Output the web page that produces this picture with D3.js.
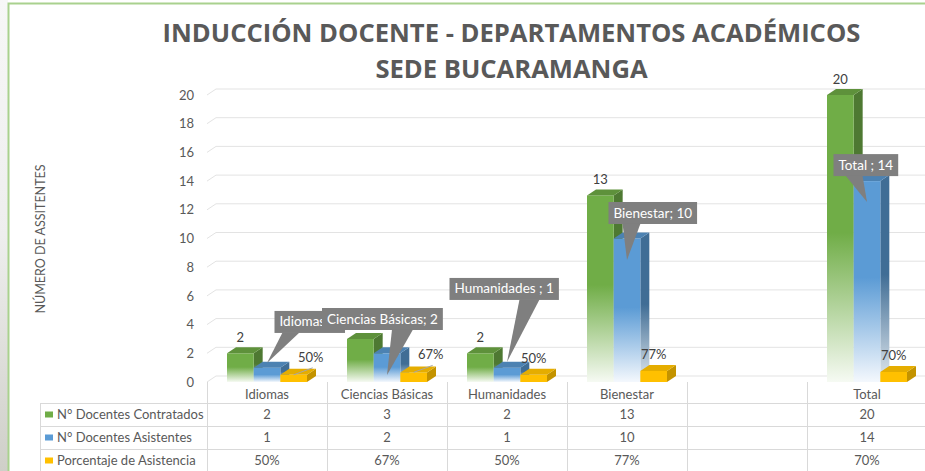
<!DOCTYPE html>
<html><head><meta charset="utf-8">
<script src="https://cdn.jsdelivr.net/npm/d3@7"></script>
<style>
html,body{margin:0;padding:0;background:#fff;}
svg{display:block;}
text{font-family:Lato,"Open Sans",sans-serif;}
</style></head>
<body>
<svg id="chart" width="925" height="471"></svg>
<script>
// ---------- DATA ----------
const categories = ["Idiomas", "Ciencias Básicas", "Humanidades", "Bienestar", "", "Total"];
const seriesNames = ["N° Docentes Contratados", "N° Docentes Asistentes", "Porcentaje de Asistencia"];
const contratados = [2, 3, 2, 13, null, 20];
const asistentes = [1, 2, 1, 10, null, 14];
const porcentaje = [0.50, 0.67, 0.50, 0.77, null, 0.70];
const porcentajeLabels = ["50%", "67%", "50%", "77%", "", "70%"];
const yTicks = [0, 2, 4, 6, 8, 10, 12, 14, 16, 18, 20];
const titleLines = ["INDUCCIÓN DOCENTE - DEPARTAMENTOS ACADÉMICOS", "SEDE BUCARAMANGA"];
const yTitle = "NÚMERO DE ASSITENTES";
const calloutSep = ["; ", "; ", " ; ", "; ", "", " ; "];

// ---------- LAYOUT / STYLE ----------
const W = 925, H = 471;
const colors = ["#70ad47", "#5b9bd5", "#ffc000"];
const fadeTo = ["#f6faf3", "#f4f8fd", null];
const depth = {dx: 9, dy: -6};
const fs = "13px";
// callout placement relative to the blue bar's top-center point
const calloutBox = [[7.5, -56.7], [-65, -45.3], [-57.5, -89.7], [-18.5, -36.5], null, [-33.5, -27]];
const calloutBase = [[8, 25], [70, 91], [70, 90], [14, 32], null, [12, 29]];
const calloutTipDy = [-4.7, 21.7, -5.7, 21.5, null, 21];
const pctLabelDx = [17, 17, 0, 0, 0, 0];

const svg = d3.select("#chart");
const defs = svg.append("defs");

// left background strip + green frame
const bgGrad = defs.append("linearGradient").attr("id", "bgstrip").attr("x1", 0).attr("y1", 0).attr("x2", 0).attr("y2", 1);
bgGrad.append("stop").attr("offset", "0").attr("stop-color", "#f7f7f7");
bgGrad.append("stop").attr("offset", "0.5").attr("stop-color", "#eeeeee");
bgGrad.append("stop").attr("offset", "1").attr("stop-color", "#cfcfc8");
svg.append("rect").attr("x", 0).attr("y", 0).attr("width", 8).attr("height", H).attr("fill", "url(#bgstrip)");
svg.append("path").attr("d", `M8.5,${H} V3.5 H${W}`).attr("fill", "none").attr("stroke", "#a9d18e").attr("stroke-width", 2);

// gradients for bars
colors.forEach((c, i) => {
  if (!fadeTo[i]) return;
  [["front", c], ["top", d3.color(c).darker(0.45).formatHex()], ["side", d3.color(c).darker(1.0).formatHex()]].forEach(([k, col]) => {
    const g = defs.append("linearGradient").attr("id", `g${i}${k}`).attr("x1", 0).attr("y1", 0).attr("x2", 0).attr("y2", 1);
    g.append("stop").attr("offset", "0").attr("stop-color", col);
    g.append("stop").attr("offset", "0.48").attr("stop-color", col);
    g.append("stop").attr("offset", "1").attr("stop-color", k === "side" ? d3.interpolateRgb(col, "#fff")(0.85) : fadeTo[i]);
  });
});
function fillFor(i, k) {
  if (fadeTo[i]) return `url(#g${i}${k})`;
  if (k === "front") return colors[i];
  if (k === "top") return d3.color(colors[i]).darker(0.3).formatHex();
  return d3.color(colors[i]).darker(0.75).formatHex();
}

// scales
const x = d3.scaleBand().domain(d3.range(categories.length)).range([207, 927]).paddingInner(0).paddingOuter(0);
const x1 = d3.scaleBand().domain(d3.range(seriesNames.length)).range([0, x.bandwidth()]).paddingInner(0).paddingOuter(0.75);
const y = d3.scaleLinear().domain([0, 20]).range([382, 95]);

const txtCol = "#595959";

// title
svg.append("g").selectAll("text").data(titleLines).join("text")
  .attr("x", 511.5).attr("y", (d, i) => 42 + i * 36)
  .attr("text-anchor", "middle").attr("fill", txtCol)
  .style("font-family", "'Open Sans',sans-serif").style("font-weight", 700).style("font-size", "25.6px")
  .text(d => d);

// gridlines (3D back wall)
const x0 = x.range()[0];
svg.append("g").selectAll("path").data(yTicks).join("path")
  .attr("d", d => `M${x0},${y(d)} l${depth.dx},${depth.dy} H${W}`)
  .attr("fill", "none").attr("stroke", "#e3e3e3").attr("stroke-width", 1);

// y axis labels (via d3 axis)
const yAxis = d3.axisLeft(y).tickValues(yTicks).tickSize(0).tickPadding(0);
const gy = svg.append("g").attr("transform", `translate(194,0)`).call(yAxis);
gy.select(".domain").remove();
gy.selectAll("text").attr("fill", txtCol).style("font-size", fs).style("font-family", "Lato,sans-serif");

// y title
svg.append("text").attr("transform", "translate(45,239) rotate(-90)")
  .attr("text-anchor", "middle").attr("fill", txtCol).style("font-size", "12.5px").text(yTitle);

// bars
const seriesVals = [contratados, asistentes, porcentaje];
const barsG = svg.append("g");
const bw = x1.bandwidth();
categories.forEach((cat, ci) => {
  seriesVals.forEach((vals, si) => {
    const v = vals[ci];
    if (v == null) return;
    const bx = x(ci) + x1(si), by = y(v), b0 = y(0);
    const g = barsG.append("g");
    g.append("path").attr("d", `M${bx + bw},${by} l${depth.dx},${depth.dy} V${b0 + depth.dy} L${bx + bw},${b0} Z`).attr("fill", fillFor(si, "side"));
    g.append("rect").attr("x", bx).attr("y", by).attr("width", bw).attr("height", b0 - by).attr("fill", fillFor(si, "front"));
    g.append("path").attr("d", `M${bx},${by} l${depth.dx},${depth.dy} h${bw} l${-depth.dx},${-depth.dy} Z`).attr("fill", si === 2 ? fillFor(si, "top") : d3.color(colors[si]).darker(0.5).formatHex());
  });
});

// labels: green values
const lbl = svg.append("g").style("font-size", fs).attr("fill", "#404040");
categories.forEach((cat, ci) => {
  const v = contratados[ci];
  if (v == null) return;
  lbl.append("text").attr("x", x(ci) + x1(0) + bw / 2).attr("y", y(v) - 11).attr("text-anchor", "middle").text(v);
});
// labels: percentages with leader lines
categories.forEach((cat, ci) => {
  const v = porcentaje[ci];
  if (v == null) return;
  const cx = x(ci) + x1(2) + bw / 2;
  const lx = cx + pctLabelDx[ci], ly = y(v) - 12 - (pctLabelDx[ci] ? 1 : 0);
  if (pctLabelDx[ci]) {
    lbl.append("line").attr("x1", cx).attr("y1", y(v)).attr("x2", lx + 2).attr("y2", ly + 6)
      .attr("stroke", "#a6a6a6").attr("stroke-width", 1);
  }
  lbl.append("text").attr("x", lx).attr("y", ly).attr("text-anchor", "middle").text(porcentajeLabels[ci]);
});

// callouts for blue series
const cg = svg.append("g");
categories.forEach((cat, ci) => {
  const v = asistentes[ci];
  if (v == null) return;
  const cx = x(ci) + x1(1) + bw / 2, cy = y(v);
  const bxl = cx + calloutBox[ci][0], byt = cy + calloutBox[ci][1];
  const g = cg.append("g");
  const t = g.append("text").attr("x", bxl + 5).attr("y", byt + 15.5).attr("fill", "#ffffff").style("font-size", "13.5px").text(cat + calloutSep[ci] + v);
  const tw = t.node().getComputedTextLength();
  const bh = 22;
  g.insert("rect", "text").attr("x", bxl).attr("y", byt).attr("width", tw + 10).attr("height", bh).attr("fill", "#7f7f7f");
  g.insert("path", "text").attr("d", `M${bxl + calloutBase[ci][0]},${byt + bh - 0.5} L${cx},${cy + calloutTipDy[ci]} L${bxl + calloutBase[ci][1]},${byt + bh - 0.5} Z`).attr("fill", "#7f7f7f");
});

// data table
const tG = svg.append("g");
const rowTops = [403, 426, 449];
const lineCol = "#d9d9d9";
rowTops.forEach(r => tG.append("line").attr("x1", 40).attr("x2", W).attr("y1", r + 0.5).attr("y2", r + 0.5).attr("stroke", lineCol));
tG.append("line").attr("x1", 40.5).attr("x2", 40.5).attr("y1", 403).attr("y2", H).attr("stroke", lineCol);
d3.range(categories.length).forEach(ci => {
  tG.append("line").attr("x1", x(ci) + 0.5).attr("x2", x(ci) + 0.5).attr("y1", 382).attr("y2", H).attr("stroke", lineCol);
});
// category labels
tG.selectAll(".cat").data(categories).join("text").attr("class", "cat")
  .attr("x", (d, i) => x(i) + x.bandwidth() / 2).attr("y", 399).attr("text-anchor", "middle")
  .attr("fill", txtCol).style("font-size", fs).text(d => d);
// rows
const rowTexts = [contratados.map(v => v == null ? "" : String(v)), asistentes.map(v => v == null ? "" : String(v)), porcentajeLabels];
rowTexts.forEach((arr, ri) => {
  const base = rowTops[ri] + 15.5;
  tG.append("rect").attr("x", 45).attr("y", rowTops[ri] + 8.5).attr("width", 8).attr("height", 6).attr("fill", colors[ri]);
  tG.append("text").attr("x", 57).attr("y", base).attr("fill", txtCol).style("font-size", fs).text(seriesNames[ri]);
  arr.forEach((s, ci) => {
    tG.append("text").attr("x", x(ci) + x.bandwidth() / 2).attr("y", base).attr("text-anchor", "middle")
      .attr("fill", txtCol).style("font-size", fs).text(s);
  });
});
</script>
</body></html>
